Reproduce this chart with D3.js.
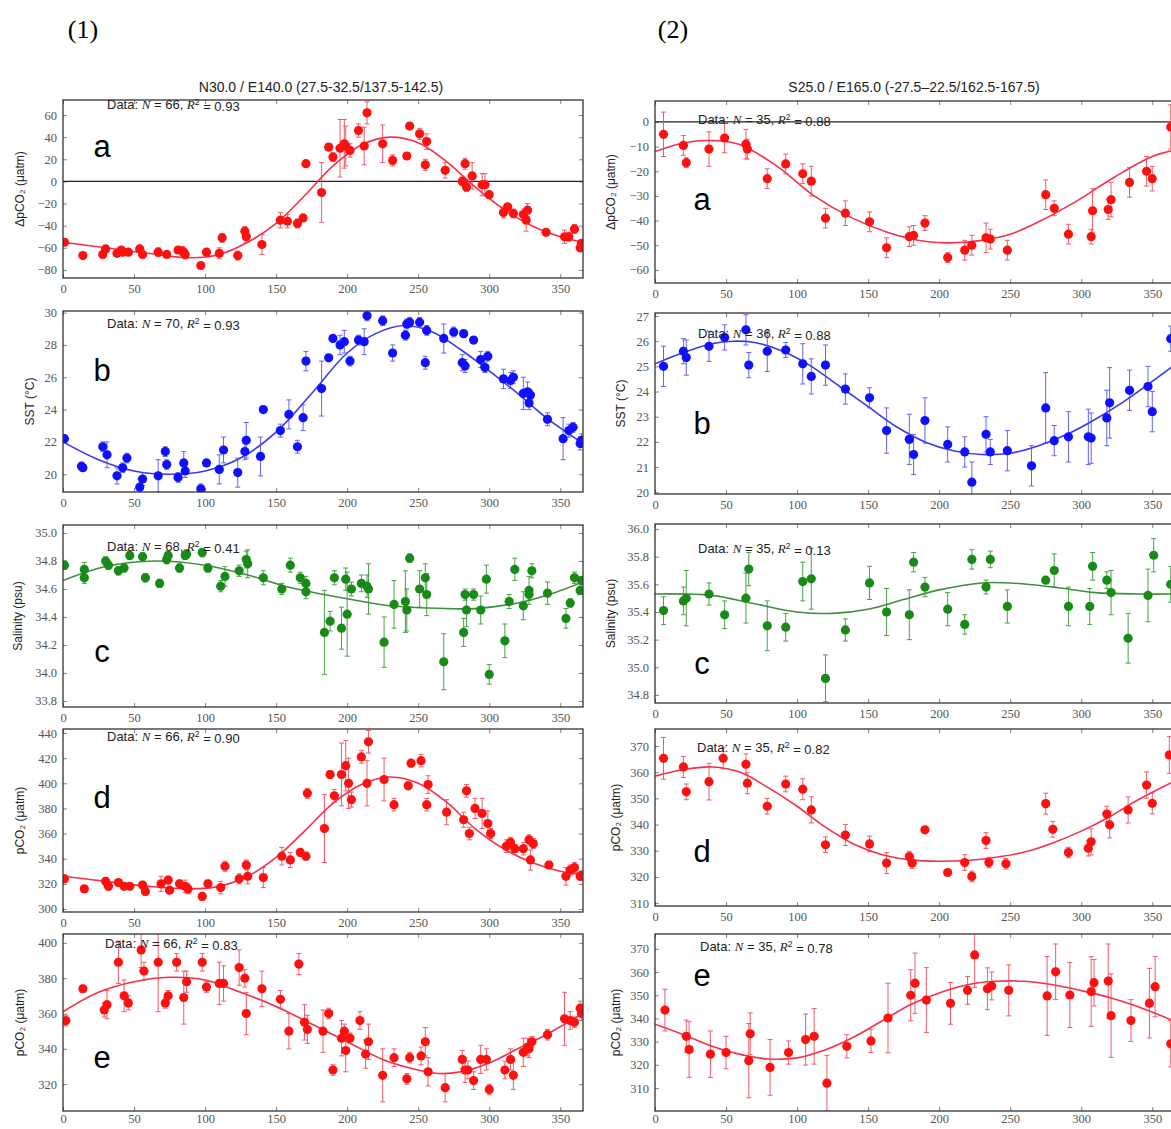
<!DOCTYPE html>
<html>
<head>
<meta charset="utf-8">
<script src="https://cdn.jsdelivr.net/npm/d3@7"></script>
<style>
  body { margin: 0; background: #fff; }
  svg { display: block; }
  .tick text { font-family: "Liberation Serif", serif; font-size: 12.5px; fill: #555; }
  .tick line { stroke: #666; stroke-width: 0.8; }
</style>
</head>
<body>
<div id="chart"></div>
<script>
// ---- data: [day, value, error] ----
let xTicks = [0, 50, 100, 150, 200, 250, 300, 350];

let dpco2Left = [[1,-55,3],[14,-67,2],[28,-66,3],[30,-61,3],[38,-65,2],[41,-62,2],[42,-64,2],[46,-64,2],[54,-61,3],[56,-66,2],[67,-64,4],[73,-66,2],[81,-62,3],[84,-63,4],[85,-64,3],[86,-66,4],[97,-76,3],[101,-64,3],[110,-65,5],[112,-51,4],[123,-67,4],[128,-45,4],[129,-50,5],[140,-57,9],[153,-35,7],[158,-36,6],[165,-38,4],[169,-33,3],[171,16,3],[182,-10,27],[187,31,3],[190,22,4],[195,30,26],[198,34,22],[199,32,18],[202,28,6],[208,46,6],[212,32,17],[214,62,10],[225,34,17],[232,19,5],[242,23,3],[244,50,3],[251,43,5],[255,15,5],[256,36,7],[269,10,7],[281,0,4],[283,16,5],[284,-5,4],[288,5,12],[295,-3,10],[297,-3,10],[300,-12,3],[310,-28,5],[313,-23,3],[317,-29,4],[324,-30,5],[326,-35,10],[327,-26,6],[340,-46,2],[353,-50,6],[356,-50,4],[360,-43,4],[364,-60,3],[365,-56,3]];
let dpco2LeftFit = [[0,-55],[30,-60],[60,-65],[90,-69],[110,-66],[130,-55],[150,-38],[170,-13],[190,14],[210,33],[230,40],[250,35],[270,18],[290,-5],[310,-25],[330,-40],[350,-50],[366,-55]];

let sstLeft = [[1,22.2,0.2],[13,20.5,0.2],[14,20.4,0.2],[28,21.7,0.3],[31,21.2,0.8],[38,19.9,0.5],[42,20.4,0.3],[45,21.0,0.3],[54,19.2,0.5],[56,19.7,0.4],[67,19.9,1.0],[72,21.4,0.3],[73,20.6,0.3],[81,19.8,0.3],[85,20.7,0.7],[86,20.2,0.4],[97,19.1,0.3],[101,20.7,0.2],[110,20.3,0.9],[113,21.5,0.8],[123,20.1,0.9],[128,21.4,0.5],[129,22.1,1.1],[139,21.1,1.2],[141,24.0,0.2],[153,22.7,0.4],[159,23.7,0.9],[165,21.7,0.4],[169,23.5,0.8],[171,27.0,0.6],[182,25.3,1.7],[187,27.2,0.2],[190,28.4,0.2],[195,28.0,0.6],[198,28.2,0.7],[202,27.0,0.3],[208,28.3,0.3],[212,28.2,0.8],[214,29.8,0.3],[225,29.5,0.3],[232,27.5,0.5],[241,28.6,0.3],[242,29.3,0.3],[244,29.4,0.3],[251,29.4,0.3],[255,26.9,0.4],[256,28.9,0.3],[268,28.4,0.9],[275,28.8,0.3],[281,26.9,0.5],[282,28.7,0.2],[283,26.7,0.4],[289,28.3,0.2],[294,27.1,0.5],[297,26.6,0.3],[299,27.3,0.3],[310,25.9,0.6],[315,25.8,0.5],[317,26.0,0.4],[324,25.0,1.0],[327,25.1,0.6],[328,24.4,0.4],[329,24.9,0.3],[341,23.4,0.4],[352,22.2,1.3],[356,22.7,0.4],[359,22.9,0.3],[364,21.9,0.4],[365,22.1,0.4]];
let sstLeftFit = [[0,22.0],[25,20.9],[50,20.2],[75,20.0],[100,20.2],[125,21.0],[150,22.6],[175,25.0],[200,27.5],[220,28.7],[240,29.2],[260,28.8],[280,27.7],[300,26.4],[320,25.0],[340,23.5],[366,21.9]];

let salLeft = [[1,34.77,0.03],[15,34.74,0.05],[15,34.68,0.04],[30,34.80,0.03],[32,34.77,0.03],[39,34.73,0.03],[43,34.75,0.03],[47,34.84,0.03],[56,34.83,0.03],[58,34.68,0.03],[68,34.64,0.03],[73,34.81,0.03],[74,34.84,0.03],[82,34.75,0.03],[86,34.84,0.03],[87,34.85,0.03],[98,34.86,0.03],[102,34.75,0.03],[111,34.62,0.04],[114,34.69,0.07],[124,34.73,0.04],[129,34.81,0.06],[130,34.78,0.10],[141,34.68,0.05],[154,34.60,0.04],[160,34.77,0.05],[167,34.68,0.04],[171,34.58,0.05],[171,34.64,0.05],[184,34.29,0.3],[188,34.37,0.07],[191,34.68,0.05],[196,34.32,0.15],[199,34.67,0.08],[200,34.42,0.3],[203,34.60,0.05],[210,34.64,0.06],[214,34.62,0.08],[215,34.60,0.18],[226,34.22,0.18],[233,34.49,0.17],[241,34.51,0.22],[242,34.45,0.15],[244,34.82,0.03],[251,34.60,0.13],[255,34.68,0.1],[256,34.56,0.15],[268,34.08,0.2],[282,34.29,0.1],[283,34.56,0.04],[284,34.45,0.12],[289,34.56,0.04],[294,34.45,0.1],[298,34.67,0.1],[300,33.99,0.07],[311,34.23,0.12],[314,34.51,0.05],[318,34.74,0.08],[324,34.48,0.1],[328,34.56,0.04],[328,34.59,0.1],[330,34.73,0.05],[341,34.57,0.08],[354,34.39,0.07],[357,34.50,0.03],[360,34.68,0.04],[364,34.59,0.03],[365,34.66,0.03]];
let salLeftFit = [[0,34.66],[30,34.76],[65,34.80],[100,34.77],[130,34.70],[160,34.61],[200,34.53],[230,34.48],[270,34.46],[290,34.46],[320,34.50],[345,34.57],[366,34.65]];

let pco2Left = [[1,324,3],[15,316,2],[30,322,3],[32,318,3],[39,321,2],[43,318,2],[47,318,2],[56,319,3],[58,314,3],[69,320,6],[74,323,3],[75,315,2],[82,320,3],[86,318,5],[88,316,4],[98,310,3],[102,320,3],[111,317,5],[114,334,4],[124,324,4],[129,335,4],[130,326,6],[141,325,8],[154,342,7],[160,339,6],[167,345,3],[171,342,3],[172,392,4],[184,364,27],[188,407,3],[191,390,5],[196,407,25],[199,414,20],[201,400,20],[203,387,6],[210,421,5],[214,400,18],[215,433,9],[226,403,17],[233,383,5],[243,398,3],[245,416,3],[252,418,5],[256,383,5],[257,399,7],[270,377,10],[282,371,6],[284,394,5],[286,360,5],[290,380,8],[295,376,12],[299,368,10],[301,360,4],[312,350,5],[315,353,4],[318,348,3],[324,348,5],[328,355,4],[329,339,8],[331,352,4],[342,335,3],[354,326,7],[357,331,4],[360,333,4],[364,326,3],[365,327,3]];
let pco2LeftFit = [[0,326],[30,322],[60,318],[90,316],[110,318],[130,326],[150,341],[170,362],[190,384],[210,399],[230,405],[250,400],[270,385],[290,364],[310,348],[330,337],[350,330],[366,327]];

let pco2cLeft = [[2,356,3],[14,374,2],[29,362,4],[31,365,8],[39,389,12],[43,370,9],[46,366,4],[55,396,10],[57,384,5],[67,389,28],[72,366,3],[74,370,3],[80,389,5],[85,369,15],[87,378,6],[98,389,5],[101,375,3],[110,377,12],[113,377,10],[124,386,10],[128,380,5],[129,360,12],[140,374,10],[153,368,5],[159,350,10],[166,388,6],[170,355,10],[172,351,8],[183,350,12],[187,360,3],[190,328,3],[196,346,10],[198,350,4],[199,339,12],[202,346,3],[209,356,5],[213,337,8],[215,344,10],[225,325,15],[233,335,5],[242,323,3],[244,335,3],[252,336,5],[255,344,8],[257,327,8],[269,318,8],[281,334,5],[283,328,7],[285,328,5],[289,322,5],[294,334,8],[298,334,6],[300,317,3],[311,328,5],[315,334,6],[317,325,8],[324,338,8],[327,341,5],[328,340,5],[330,344,3],[341,348,3],[353,357,15],[357,356,5],[360,355,3],[364,363,4],[365,360,4]];
let pco2cLeftFit = [[0,361],[25,372],[50,378],[75,380.5],[100,379],[125,372],[150,364],[175,354],[200,344],[225,334],[250,328],[265,326],[280,327],[300,332],[320,340],[340,348],[366,360]];

let dpco2Right = [[6,-5,9],[20,-9.5,4],[22,-16.5,2],[38,-11,7],[49,-6.5,6],[64,-9,6],[65,-11,4],[79,-23,4],[92,-17,4],[104,-21,4],[110,-24,6],[120,-39,4],[134,-37,5],[151,-40.5,4],[163,-51,4],[179,-46.5,4],[182,-46,4],[190,-41,3],[206,-55,2],[218,-52,4],[223,-50,4],[233,-47,6],[236,-47.5,4],[248,-52,4],[275,-29.5,6],[281,-35,3],[291,-45.5,4],[307,-46.5,3],[308,-36,9],[319,-35.5,4],[321,-31.5,7],[334,-24.5,6],[346,-20,6],[350,-23,5],[363,-2,9]];
let dpco2RightFit = [[0,-12],[20,-8.5],[38,-7.5],[59,-9],[86,-18],[112,-30],[139,-39],[165,-45],[191,-48.5],[210,-49],[230,-48],[250,-45.5],[270,-40.5],[297,-32],[323,-22.5],[350,-14],[369,-11]];

let sstRight = [[6,25.0,0.8],[20,25.6,0.5],[22,25.35,0.7],[38,25.8,0.6],[49,26.15,0.5],[64,26.45,0.6],[66,25.05,0.5],[79,25.6,0.8],[92,25.65,0.3],[104,25.1,0.8],[110,24.6,0.7],[120,25.05,0.8],[134,24.1,0.6],[151,23.75,0.4],[163,22.45,0.9],[179,22.1,1.0],[182,21.5,0.8],[190,22.85,0.9],[206,21.9,0.7],[218,21.6,0.6],[223,20.4,0.8],[233,22.3,0.7],[236,21.6,0.5],[248,21.65,0.8],[265,21.05,0.8],[275,23.35,1.4],[281,22.05,0.6],[291,22.2,1.0],[305,22.2,1.1],[307,22.15,1.0],[318,22.95,1.1],[320,23.55,1.4],[334,24.05,0.8],[347,24.2,0.8],[350,23.2,0.8],[363,26.1,0.5]];
let sstRightFit = [[0,25.1],[20,25.55],[40,25.9],[55,26.0],[70,25.95],[90,25.6],[110,25.0],[130,24.2],[150,23.4],[170,22.6],[190,22.0],[210,21.65],[230,21.5],[250,21.55],[270,21.85],[290,22.3],[310,22.9],[330,23.6],[350,24.4],[369,25.2]];

let salRight = [[6,35.41,0.1],[20,35.48,0.1],[22,35.50,0.2],[38,35.53,0.08],[49,35.38,0.1],[64,35.50,0.18],[66,35.71,0.12],[79,35.30,0.18],[92,35.29,0.1],[104,35.62,0.14],[110,35.64,0.22],[120,34.92,0.17],[134,35.27,0.08],[151,35.61,0.12],[163,35.40,0.17],[179,35.38,0.18],[182,35.76,0.07],[190,35.58,0.07],[206,35.42,0.12],[218,35.31,0.07],[223,35.78,0.07],[233,35.58,0.05],[236,35.78,0.06],[248,35.44,0.12],[275,35.63,0.02],[281,35.70,0.12],[291,35.44,0.14],[306,35.44,0.13],[308,35.73,0.1],[318,35.63,0.06],[321,35.54,0.16],[333,35.21,0.18],[347,35.52,0.19],[351,35.81,0.12],[363,35.60,0.13]];
let salRightFit = [[0,35.53],[40,35.52],[70,35.46],[100,35.40],[125,35.39],[150,35.42],[175,35.49],[200,35.56],[230,35.61],[250,35.61],[280,35.58],[310,35.54],[340,35.53],[369,35.53]];

let pco2Right = [[6,365.3,8],[20,362,4],[22,352.5,3],[38,356.4,7],[48,365.3,4],[64,363,4],[65,355.8,4],[79,347,3],[92,355.5,3],[104,353.5,4],[110,345.6,5],[120,332.3,3],[134,336,4],[151,332.6,3],[163,325.3,4],[179,327.8,2],[181,325.3,2],[190,338,1],[206,321.7,1],[218,325.5,3],[223,320.2,2],[233,333.9,3],[235,325.5,2],[247,325,2],[275,348,4],[280,338.2,3],[291,329.3,2],[305,331,3],[307,333.4,5],[318,344,3],[320,339.9,5],[333,345.6,5],[346,355.1,5],[350,348.1,4],[362,366.6,7]];
let pco2RightFit = [[0,358.5],[20,361],[40,362],[60,360],[80,354],[100,347],[120,339],[140,332.5],[160,328.5],[180,326.5],[200,326],[220,326.3],[240,327.5],[260,329.5],[280,333],[300,337.5],[320,343],[340,349.5],[369,357.5]];

let pco2cRight = [[7,343.6,9],[22,332.3,7],[24,326.6,12],[39,324.6,10],[50,325.3,7],[66,321.8,16],[67,333.4,9],[81,318.9,12],[94,325.3,5],[106,330.9,11],[112,332.3,12],[121,312.1,12],[135,328,5],[152,330.3,5],[164,340.2,15],[180,350,11],[183,355.2,13],[191,347.9,14],[208,346.5,9],[220,352.1,6],[225,367.4,14],[234,352.8,9],[237,354,6],[249,352.1,11],[276,349.7,17],[282,360.1,12],[292,350.1,14],[307,351.6,15],[309,355.4,10],[319,356.1,16],[321,341.2,18],[335,339.1,9],[348,346.6,15],[352,353.7,13],[363,329.1,10]];
let pco2cRightFit = [[0,337.5],[20,333],[40,328],[60,324.5],[80,322.5],[100,323],[120,326.5],[140,332],[160,339],[180,346],[200,351],[220,354.5],[240,356],[260,356],[280,354.5],[300,352],[320,349],[340,345],[369,338]];

// N and R^2 printed in each panel
let statsLeft = [[66, "0.93"], [70, "0.93"], [68, "0.41"], [66, "0.90"], [66, "0.83"]];
let statsRight = [[35, "0.88"], [36, "0.88"], [35, "0.13"], [35, "0.82"], [35, "0.78"]];

// y tick labels
let ticksDpco2L = [-80, -60, -40, -20, 0, 20, 40, 60];
let ticksSstL = [20, 22, 24, 26, 28, 30];
let ticksSalL = [33.8, 34.0, 34.2, 34.4, 34.6, 34.8, 35.0];
let ticksPco2L = [300, 320, 340, 360, 380, 400, 420, 440];
let ticksPco2cL = [320, 340, 360, 380, 400];
let ticksDpco2R = [-60, -50, -40, -30, -20, -10, 0];
let ticksSstR = [20, 21, 22, 23, 24, 25, 26, 27];
let ticksSalR = [34.8, 35.0, 35.2, 35.4, 35.6, 35.8, 36.0];
let ticksPco2R = [310, 320, 330, 340, 350, 360, 370];
let ticksPco2cR = [310, 320, 330, 340, 350, 360, 370];

// ---- layout ----
let width = 1171, height = 1129;
let cols = [
    { x0: 63, x1: 583, dom: [0, 366], title: "N30.0 / E140.0 (27.5-32.5/137.5-142.5)", titleX: 321, head: "(1)", headX: 83 },
    { x0: 655, x1: 1175, dom: [0, 366], title: "S25.0 / E165.0 (-27.5\u201322.5/162.5-167.5)", titleX: 914, head: "(2)", headX: 673 }
];

let RED = "#ff1010", RED_LINE = "#f5304a", RED_ERR = "#f04050";
let BLUE = "#1010ff", BLUE_LINE = "#3a3ae8", BLUE_ERR = "#4a4af0";
let GREEN = "#178a17", GREEN_LINE = "#3f8f3f", GREEN_ERR = "#2a922a";

let panels = [
    { col: 0, top: 100, bottom: 278, pad: 6, dom: [-87.3, 73.6], ticks: ticksDpco2L, fmt: "d", data: dpco2Left, fit: dpco2LeftFit, c: [RED, RED_LINE, RED_ERR], ylab: "\u0394pCO\u2082 (\u03bcatm)", ylabX: 20, letter: "a", lx: 102, ly: 157, stats: statsLeft[0], sx: 107, sy: 109, zero: true },
    { col: 0, top: 311, bottom: 492, pad: 6, dom: [18.9, 30.1], ticks: ticksSstL, fmt: "d", data: sstLeft, fit: sstLeftFit, c: [BLUE, BLUE_LINE, BLUE_ERR], ylab: "SST (\u00b0C)", ylabX: 30, letter: "b", lx: 102, ly: 381, stats: statsLeft[1], sx: 107, sy: 328 },
    { col: 0, top: 525, bottom: 707, pad: 6, dom: [33.757, 35.057], ticks: ticksSalL, fmt: ".1f", data: salLeft, fit: salLeftFit, c: [GREEN, GREEN_LINE, GREEN_ERR], ylab: "Salinity (psu)", ylabX: 18, letter: "c", lx: 102, ly: 662, stats: statsLeft[2], sx: 107, sy: 551 },
    { col: 0, top: 729, bottom: 912, pad: 6, dom: [297.6, 443.2], ticks: ticksPco2L, fmt: "d", data: pco2Left, fit: pco2LeftFit, c: [RED, RED_LINE, RED_ERR], ylab: "pCO\u2082 (\u03bcatm)", ylabX: 20, letter: "d", lx: 102, ly: 808, stats: statsLeft[3], sx: 107, sy: 741 },
    { col: 0, top: 934, bottom: 1111, pad: 3, dom: [304.8, 405], ticks: ticksPco2cL, fmt: "d", data: pco2cLeft, fit: pco2cLeftFit, c: [RED, RED_LINE, RED_ERR], ylab: "pCO\u2082 (\u03bcatm)", ylabX: 20, letter: "e", lx: 102, ly: 1068, stats: statsLeft[4], sx: 105, sy: 948 },

    { col: 1, top: 101, bottom: 283, pad: 6, dom: [-65.3, 8.5], ticks: ticksDpco2R, fmt: "d", data: dpco2Right, fit: dpco2RightFit, c: [RED, RED_LINE, RED_ERR], ylab: "\u0394pCO\u2082 (\u03bcatm)", ylabX: 611, letter: "a", lx: 702, ly: 210, stats: statsRight[0], sx: 698, sy: 124, zero: true },
    { col: 1, top: 313, bottom: 494, pad: 6, dom: [19.93, 27.12], ticks: ticksSstR, fmt: "d", data: sstRight, fit: sstRightFit, c: [BLUE, BLUE_LINE, BLUE_ERR], ylab: "SST (\u00b0C)", ylabX: 621, letter: "b", lx: 702, ly: 434, stats: statsRight[1], sx: 698, sy: 338 },
    { col: 1, top: 524, bottom: 703, pad: 6, dom: [34.742, 36.036], ticks: ticksSalR, fmt: ".1f", data: salRight, fit: salRightFit, c: [GREEN, GREEN_LINE, GREEN_ERR], ylab: "Salinity (psu)", ylabX: 611, letter: "c", lx: 702, ly: 674, stats: statsRight[2], sx: 698, sy: 553 },
    { col: 1, top: 729, bottom: 906, pad: 6, dom: [308.9, 376.5], ticks: ticksPco2R, fmt: "d", data: pco2Right, fit: pco2RightFit, c: [RED, RED_LINE, RED_ERR], ylab: "pCO\u2082 (\u03bcatm)", ylabX: 616, letter: "d", lx: 702, ly: 862, stats: statsRight[3], sx: 697, sy: 752 },
    { col: 1, top: 934, bottom: 1111, pad: 3, dom: [300.1, 376.4], ticks: ticksPco2cR, fmt: "d", data: pco2cRight, fit: pco2cRightFit, c: [RED, RED_LINE, RED_ERR], ylab: "pCO\u2082 (\u03bcatm)", ylabX: 616, letter: "e", lx: 702, ly: 986, stats: statsRight[4], sx: 700, sy: 951 }
];

let svg = d3.select("#chart").append("svg")
    .attr("width", width)
    .attr("height", height);

svg.append("rect").attr("width", width).attr("height", height).attr("fill", "#fff");

// column headings and titles
cols.forEach(function(col) {
    svg.append("text")
        .attr("x", col.headX).attr("y", 38)
        .attr("text-anchor", "middle")
        .style("font-family", "'Liberation Serif', serif")
        .style("font-size", "26px")
        .text(col.head);
    svg.append("text")
        .attr("x", col.titleX).attr("y", 92)
        .attr("text-anchor", "middle")
        .style("font-family", "'Liberation Sans', Arial, sans-serif")
        .style("font-size", "14px")
        .attr("fill", "#222")
        .text(col.title);
});

panels.forEach(function(p, i) {
    let col = cols[p.col];
    let x = d3.scaleLinear().domain(col.dom).range([col.x0, col.x1]);
    let y = d3.scaleLinear().domain(p.dom).range([p.bottom, p.top]);
    let g = svg.append("g");

    let clipId = "clip" + i;
    svg.append("clipPath").attr("id", clipId)
        .append("rect")
        .attr("x", col.x0).attr("y", p.top)
        .attr("width", col.x1 - col.x0).attr("height", p.bottom - p.top);

    // axes, ticks pointing inward
    g.append("g")
        .attr("transform", "translate(0," + p.bottom + ")")
        .call(d3.axisBottom(x).tickValues(xTicks).tickSize(-4).tickPadding(p.pad))
        .call(function(a) { a.select(".domain").remove(); });
    g.append("g")
        .attr("transform", "translate(0," + p.top + ")")
        .call(d3.axisTop(x).tickValues(xTicks).tickSize(-4).tickFormat(""))
        .call(function(a) { a.select(".domain").remove(); });
    g.append("g")
        .attr("transform", "translate(" + col.x0 + ",0)")
        .call(d3.axisLeft(y).tickValues(p.ticks).tickSize(-4).tickPadding(6).tickFormat(d3.format(p.fmt)))
        .call(function(a) { a.select(".domain").remove(); });
    g.append("g")
        .attr("transform", "translate(" + col.x1 + ",0)")
        .call(d3.axisRight(y).tickValues(p.ticks).tickSize(-4).tickFormat(""))
        .call(function(a) { a.select(".domain").remove(); });

    let plot = g.append("g").attr("clip-path", "url(#" + clipId + ")");

    if (p.zero) {
        plot.append("line")
            .attr("x1", col.x0).attr("x2", col.x1)
            .attr("y1", y(0)).attr("y2", y(0))
            .attr("stroke", "#222").attr("stroke-width", 1.3);
    }

    // fitted curve
    let line = d3.line()
        .x(function(d) { return x(d[0]); })
        .y(function(d) { return y(d[1]); })
        .curve(d3.curveCatmullRom.alpha(0.5));
    plot.append("path")
        .datum(p.fit)
        .attr("d", line)
        .attr("fill", "none")
        .attr("stroke", p.c[1])
        .attr("stroke-width", 1.6);

    // error bars
    let eb = plot.selectAll(".eb")
        .data(p.data)
        .enter().append("g")
        .attr("class", "eb")
        .attr("stroke", p.c[2])
        .attr("stroke-width", 1)
        .attr("opacity", 0.85);
    eb.append("line")
        .attr("x1", function(d) { return x(d[0]); })
        .attr("x2", function(d) { return x(d[0]); })
        .attr("y1", function(d) { return y(d[1] - d[2]); })
        .attr("y2", function(d) { return y(d[1] + d[2]); });
    [-1, 1].forEach(function(s) {
        eb.append("line")
            .attr("x1", function(d) { return x(d[0]) - 2.5; })
            .attr("x2", function(d) { return x(d[0]) + 2.5; })
            .attr("y1", function(d) { return y(d[1] + s * d[2]); })
            .attr("y2", function(d) { return y(d[1] + s * d[2]); });
    });

    // points
    plot.selectAll(".pt")
        .data(p.data)
        .enter().append("circle")
        .attr("class", "pt")
        .attr("cx", function(d) { return x(d[0]); })
        .attr("cy", function(d) { return y(d[1]); })
        .attr("r", 4.6)
        .attr("fill", p.c[0]);

    // frame
    g.append("rect")
        .attr("x", col.x0).attr("y", p.top)
        .attr("width", col.x1 - col.x0).attr("height", p.bottom - p.top)
        .attr("fill", "none")
        .attr("stroke", "#333")
        .attr("stroke-width", 1.3);

    // y axis title
    g.append("text")
        .attr("transform", "translate(" + p.ylabX + "," + ((p.top + p.bottom) / 2) + ") rotate(-90)")
        .attr("text-anchor", "middle")
        .attr("dy", "0.35em")
        .style("font-family", "'Liberation Sans', Arial, sans-serif")
        .style("font-size", "12px")
        .attr("fill", "#222")
        .text(p.ylab);

    // panel letter
    g.append("text")
        .attr("x", p.lx).attr("y", p.ly)
        .attr("text-anchor", "middle")
        .style("font-family", "'Liberation Sans', Arial, sans-serif")
        .style("font-size", "31px")
        .text(p.letter);

    // Data: N = .., R^2 = ..
    let t = g.append("text")
        .attr("x", p.sx).attr("y", p.sy)
        .style("font-family", "'Liberation Sans', Arial, sans-serif")
        .style("font-size", "13px")
        .attr("fill", "#222");
    t.append("tspan").text("Data: ");
    t.append("tspan").style("font-family", "'Liberation Serif', serif").style("font-style", "italic").text("N");
    t.append("tspan").text(" = " + p.stats[0] + ", ");
    t.append("tspan").style("font-family", "'Liberation Serif', serif").style("font-style", "italic").text("R");
    t.append("tspan").attr("dy", "-0.45em").style("font-size", "8.5px").text("2");
    t.append("tspan").attr("dy", "0.45em").text(" = " + p.stats[1]);
});
</script>
</body>
</html>
